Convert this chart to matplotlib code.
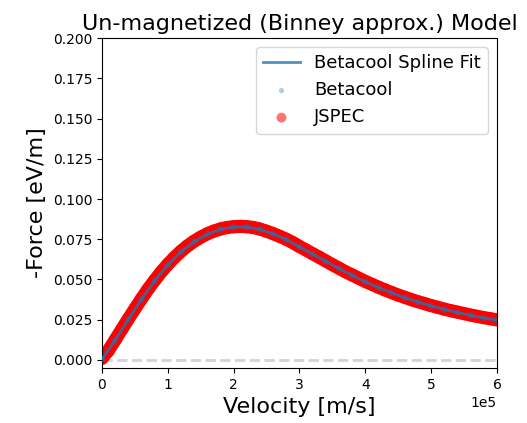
import numpy as np
import matplotlib
matplotlib.use("Agg")
import matplotlib.pyplot as plt

# JSPEC friction force, velocity in units of 1e5 m/s
jspec_v = [0.0, 0.1, 0.2, 0.3, 0.4, 0.5, 0.6, 0.7, 0.8, 0.9,
           1.0, 1.1, 1.2, 1.3, 1.4, 1.5, 1.6, 1.7, 1.8, 1.9,
           2.0, 2.1, 2.2, 2.3, 2.4, 2.5, 2.6, 2.7, 2.8, 2.9,
           3.0, 3.1, 3.2, 3.3, 3.4, 3.5, 3.6, 3.7, 3.8, 3.9,
           4.0, 4.1, 4.2, 4.3, 4.4, 4.5, 4.6, 4.7, 4.8, 4.9,
           5.0, 5.1, 5.2, 5.3, 5.4, 5.5, 5.6, 5.7, 5.8, 5.9, 6.0]
jspec_f = [0.0010, 0.0060, 0.0125, 0.0190, 0.0255, 0.0318, 0.0380, 0.0440, 0.0495, 0.0547,
           0.0594, 0.0637, 0.0675, 0.0709, 0.0738, 0.0763, 0.0784, 0.0801, 0.0814, 0.0823,
           0.0828, 0.0830, 0.0828, 0.0823, 0.0813, 0.0800, 0.0785, 0.0768, 0.0750, 0.0729,
           0.0705, 0.0683, 0.0660, 0.0638, 0.0615, 0.0592, 0.0570, 0.0548, 0.0528, 0.0508,
           0.0488, 0.0470, 0.0452, 0.0435, 0.0419, 0.0403, 0.0389, 0.0375, 0.0362, 0.0350,
           0.0338, 0.0327, 0.0316, 0.0306, 0.0297, 0.0288, 0.0279, 0.0271, 0.0263, 0.0256, 0.0249]

# Betacool points (spline fit drawn through them)
beta_v = [0.0, 0.2, 0.4, 0.6, 0.8, 1.0, 1.2, 1.4, 1.6, 1.8, 2.0, 2.2, 2.4, 2.6, 2.8,
          3.0, 3.2, 3.4, 3.6, 3.8, 4.0, 4.2, 4.4, 4.6, 4.8, 5.0, 5.2, 5.4, 5.6, 5.8, 6.0]
beta_f = [0.0005, 0.0123, 0.0252, 0.0377, 0.0492, 0.0591, 0.0672, 0.0735, 0.0781, 0.0811,
          0.0826, 0.0826, 0.0811, 0.0783, 0.0748, 0.0703, 0.0658, 0.0613, 0.0568, 0.0526,
          0.0486, 0.0450, 0.0417, 0.0387, 0.0360, 0.0336, 0.0314, 0.0295, 0.0277, 0.0261, 0.0247]

v_j = np.array(jspec_v) * 1e5
v_b = np.array(beta_v) * 1e5

fig = plt.figure(figsize=(5.27, 4.23), dpi=100)
ax = fig.add_axes([0.1935, 0.130, 0.7495, 0.780])

# dense JSPEC points merge into a solid band
ax.plot(v_j, jspec_f, color='red', lw=9.5, solid_capstyle='round', zorder=2)
ax.scatter(v_j, jspec_f, s=90, color='red', alpha=0.55, edgecolors='none', label='JSPEC', zorder=2)
ax.scatter(v_b, beta_f, s=25, color='tab:blue', alpha=0.35, edgecolors='none', label='Betacool', zorder=3)
ax.plot(v_b, beta_f, color='tab:blue', alpha=0.8, lw=2, label='Betacool Spline Fit', zorder=4)
ax.axhline(0, color='lightgray', ls='--', lw=2, zorder=1)

ax.set_xlim(0, 6e5)
ax.set_ylim(-0.005, 0.2)
ax.set_yticks(np.arange(0, 0.201, 0.025))
ax.ticklabel_format(axis='x', style='sci', scilimits=(0, 0))
ax.tick_params(labelsize=10)

ax.set_title("Un-magnetized (Binney approx.) Model", fontsize=16)
ax.set_xlabel("Velocity [m/s]", fontsize=16)
ax.set_ylabel("-Force [eV/m]", fontsize=16)

h, l = ax.get_legend_handles_labels()
order = [2, 1, 0]
ax.legend([h[i] for i in order], [l[i] for i in order], loc='upper right',
          fontsize=13, markerscale=0.75)

fig.savefig("out.png", dpi=100)
